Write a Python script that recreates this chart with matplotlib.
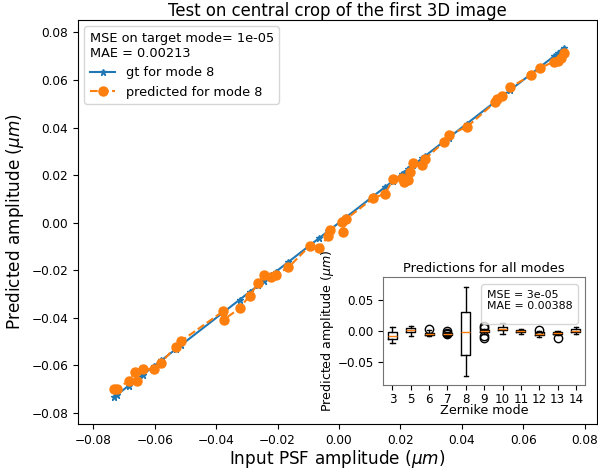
import numpy as np
import matplotlib.pyplot as plt

# input amplitudes for mode 8 (um)
x_in = [-0.0732, -0.0724, -0.0685, -0.0663, -0.0659, -0.0639, -0.0604, -0.0579,
        -0.0532, -0.0514, -0.0378, -0.0376, -0.0323, -0.0291, -0.0263, -0.0244,
        -0.0220, -0.0206, -0.0165, -0.0095, -0.0064, -0.0035, -0.0029, 0.0009,
        0.0014, 0.0023, 0.0112, 0.0150, 0.0177, 0.0205, 0.0210, 0.0226,
        0.0232, 0.0241, 0.0270, 0.0281, 0.0341, 0.0357, 0.0417, 0.0509,
        0.0513, 0.0531, 0.0558, 0.0626, 0.0656, 0.0700, 0.0713, 0.0722, 0.0733]
gt = list(x_in)
pred = [-0.0699, -0.0699, -0.0665, -0.0626, -0.0665, -0.0616, -0.0615, -0.0588,
        -0.0521, -0.0497, -0.0373, -0.0408, -0.0359, -0.0306, -0.0254, -0.0219,
        -0.0229, -0.0219, -0.0188, -0.0097, -0.0107, -0.0055, -0.0029, 0.0001,
        -0.0039, 0.0015, 0.0104, 0.0122, 0.0184, 0.0188, 0.0170, 0.0178,
        0.0213, 0.0251, 0.0241, 0.0269, 0.0338, 0.0369, 0.0403, 0.0507,
        0.0521, 0.0532, 0.0570, 0.0620, 0.0651, 0.0677, 0.0679, 0.0691, 0.0712]

# box stats per zernike mode
modes = ['3', '5', '6', '7', '8', '9', '10', '11', '12', '13', '14']
med = [-0.0081, 0.0016, -0.0054, -0.0048, -0.0011, 0.0000, 0.0038, 0.0000, -0.0043, -0.0038, 0.0005]
q1 = [-0.0134, -0.0016, -0.0070, -0.0065, -0.0392, -0.0022, 0.0011, -0.0016, -0.0065, -0.0054, -0.0022]
q3 = [-0.0011, 0.0043, -0.0032, -0.0032, 0.0312, 0.0016, 0.0070, 0.0016, -0.0022, -0.0022, 0.0032]
whislo = [-0.0188, -0.0081, -0.0086, -0.0086, -0.0720, -0.0048, -0.0054, -0.0048, -0.0102, -0.0070, -0.0054]
whishi = [0.0070, 0.0081, 0.0016, -0.0016, 0.0715, 0.0032, 0.0134, 0.0038, 0.0000, -0.0005, 0.0070]
fliers = [[], [], [0.0038], [0.0000, -0.0027, -0.0054], [], [0.0075, 0.0043, -0.0086, -0.0118],
          [], [], [0.0022], [-0.0118], []]

fig = plt.figure(figsize=(5.98, 4.71), dpi=100)
ax = fig.add_axes([0.1304, 0.0998, 0.8679, 0.8577])

ax.plot(x_in, gt, '-*', color='C0', markersize=5, label='gt for mode 8')
ax.plot(x_in, pred, '--o', color='C1', markersize=6.5, label='predicted for mode 8')
ax.set_xlim(-0.085, 0.084)
ax.set_ylim(-0.0846, 0.0852)
ax.set_xticks(np.arange(-0.08, 0.081, 0.02))
ax.set_yticks(np.arange(-0.08, 0.081, 0.02))
ax.tick_params(labelsize=8.7)
ax.set_xlabel(r'Input PSF amplitude ($\mu m$)', fontsize=12.2, labelpad=1)
ax.set_ylabel(r'Predicted amplitude ($\mu m$)', fontsize=12.2)
ax.set_title('Test on central crop of the first 3D image', fontsize=11.9, pad=3)
leg = ax.legend(loc='upper left', fontsize=9.3, title='MSE on target mode= 1e-05\nMAE = 0.00213',
                title_fontsize=9.3, alignment='left')

# inset with boxplots for all modes
axin = fig.add_axes([0.641, 0.1826, 0.3373, 0.2287])
stats = []
for i in range(len(modes)):
    stats.append(dict(med=med[i], q1=q1[i], q3=q3[i], whislo=whislo[i], whishi=whishi[i],
                      fliers=fliers[i], label=modes[i]))
axin.bxp(stats, flierprops=dict(marker='o', markerfacecolor='none', markeredgecolor='black'))
axin.set_ylim(-0.087, 0.0866)
axin.set_yticks([-0.05, 0.0, 0.05])
axin.tick_params(labelsize=8.6)
axin.tick_params(axis='x', pad=2)
axin.set_title('Predictions for all modes', fontsize=9.4, pad=4)
axin.set_xlabel('Zernike mode', fontsize=9.2, labelpad=-1)
axin.set_ylabel(r'Predicted amplitude ($\mu m$)', fontsize=9.1, labelpad=1)
for s in axin.spines.values():
    s.set_color('0.45')
axin.legend(handles=[], title='MSE = 3e-05\nMAE = 0.00388', title_fontsize=7.9,
            loc='upper right', alignment='left')

fig.savefig('out.png', dpi=100)
